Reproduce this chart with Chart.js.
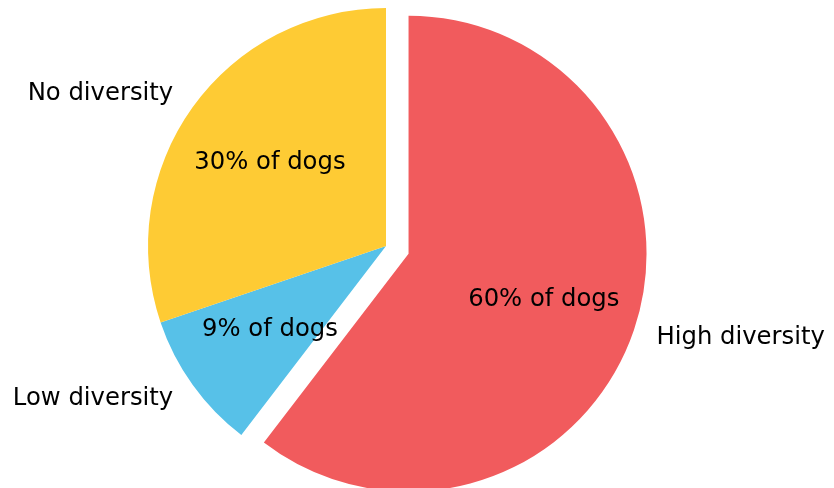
<!DOCTYPE html>
<html>
<head>
<meta charset="utf-8">
<style>
  html, body { margin: 0; padding: 0; background: #ffffff; }
  #wrap { width: 834px; height: 488px; }
</style>
<script src="https://cdn.jsdelivr.net/npm/chart.js@4.4.0/dist/chart.umd.min.js"></script>
</head>
<body>
<div id="wrap"><canvas id="pie" width="834" height="488"></canvas></div>
<script>
// data (shares in percent, clockwise from 12 o'clock)
var categories = ['High diversity', 'Low diversity', 'No diversity'];
var shares = [60.4, 9.4, 30.2];
var explode = [0.1, 0, 0];            // fraction of radius, like matplotlib's explode
var sliceColors = ['#F15B5D', '#57C1E8', '#FECB34'];

var total = shares.reduce(function (a, b) { return a + b; }, 0);
var pctText = shares.map(function (v) { return Math.round(v / total * 100) + '% of dogs'; });

// moves exploded slices out and writes the labels
var pieText = {
    id: 'pieText',
    afterDatasetsUpdate: function (chart) {
        var arcs = chart.getDatasetMeta(0).data;
        arcs.forEach(function (arc, i) {
            var mid = (arc.startAngle + arc.endAngle) / 2;
            var d = explode[i] * arc.outerRadius;
            arc.x += Math.cos(mid) * d;
            arc.y += Math.sin(mid) * d;
        });
    },
    afterDatasetsDraw: function (chart) {
        var ctx = chart.ctx;
        var arcs = chart.getDatasetMeta(0).data;
        ctx.save();
        ctx.font = '24.3px "DejaVu Sans"';
        ctx.fillStyle = '#000000';
        ctx.textBaseline = 'middle';
        arcs.forEach(function (arc, i) {
            var mid = (arc.startAngle + arc.endAngle) / 2;
            var r = arc.outerRadius;
            // percentage inside the slice
            ctx.textAlign = 'center';
            ctx.fillText(pctText[i], arc.x + Math.cos(mid) * r * 0.6, arc.y + Math.sin(mid) * r * 0.6);
            // category outside
            var lx = arc.x + Math.cos(mid) * r * 1.1;
            ctx.textAlign = Math.cos(mid) > 0 ? 'left' : 'right';
            ctx.fillText(categories[i], lx, arc.y + Math.sin(mid) * r * 1.1);
        });
        ctx.restore();
    }
};

var ctx = document.getElementById('pie').getContext('2d');
var chart = new Chart(ctx, {
    type: 'pie',
    data: {
        labels: categories,
        datasets: [{
            data: shares,
            backgroundColor: sliceColors,
            borderWidth: 0,
            radius: 238
        }]
    },
    options: {
        responsive: false,
        devicePixelRatio: 1,
        animation: false,
        layout: { padding: { left: 0, right: 62, top: 4, bottom: 0 } },
        plugins: {
            legend: { display: false },
            tooltip: { enabled: false }
        }
    },
    plugins: [pieText]
});
</script>
</body>
</html>
